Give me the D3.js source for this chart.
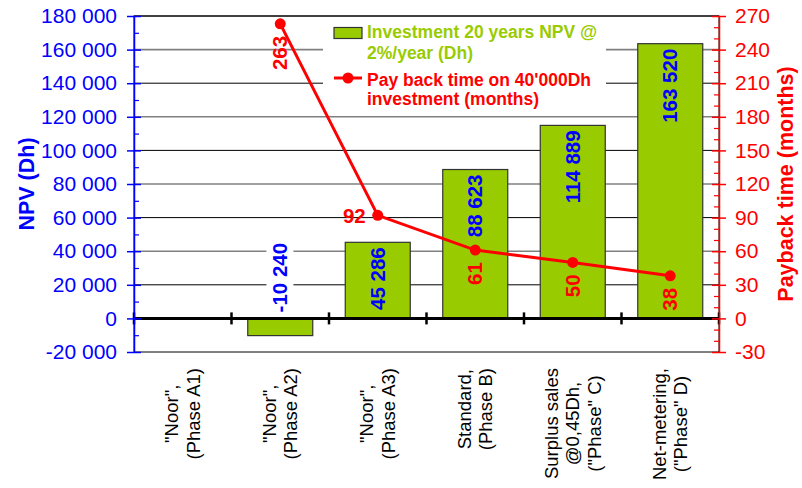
<!DOCTYPE html>
<html>
<head>
<meta charset="utf-8">
<script src="https://cdn.jsdelivr.net/npm/d3@7"></script>
<style>
  body { margin: 0; background: #fff; }
  svg { display: block; font-family: "Liberation Sans", Arial, sans-serif; }
</style>
</head>
<body>
<svg id="chart" width="802" height="488"></svg>
<script>
const categories = [
  ['"Noor",', '(Phase A1)'],
  ['"Noor",', '(Phase A2)'],
  ['"Noor",', '(Phase A3)'],
  ['Standard,', '(Phase B)'],
  ['Surplus sales', '@0,45Dh,', '("Phase" C)'],
  ['Net-metering,', '("Phase" D)']
];
const npv = [null, -10240, 45286, 88623, 114889, 163520];
const payback = [null, 263, 92, 61, 50, 38];
const npvTicks = d3.range(-20000, 180001, 20000);
const paybackTicks = d3.range(-30, 271, 30);
const legendNpv = ['Investment 20 years NPV @', '2%/year (Dh)'];
const legendPayback = ["Pay back time on 40'000Dh", 'investment (months)'];

const svg = d3.select('#chart');
const plotL = 134, plotR = 719, plotT = 16, plotB = 352;
const blue = '#0000ff', red = '#ff0000', green = '#99cc00';

const x = d3.scaleBand()
    .domain(d3.range(categories.length))
    .range([plotL, plotR])
    .paddingInner(1 / 3)
    .paddingOuter(1 / 6);
const y = d3.scaleLinear().domain([-20000, 180000]).range([plotB, plotT]);
const y2 = d3.scaleLinear().domain([-30, 270]).range([plotB, plotT]);
const cx = i => x(i) + x.bandwidth() / 2;
// space as thousands separator, plain hyphen for minus
const fmt = d3.formatLocale({decimal: ',', thousands: ' ', grouping: [3], currency: ['', ''], minus: '-'}).format(',');

// gridlines, alternating dark / grey like the original
svg.append('g').selectAll('line')
  .data(npvTicks.filter(v => v > -20000 && v !== 0))
  .join('line')
    .attr('x1', plotL).attr('x2', plotR)
    .attr('y1', d => y(d)).attr('y2', d => y(d))
    .attr('stroke', d => (d / 20000) % 2 === 0 ? '#808080' : '#000')
    .attr('stroke-width', d => (d / 20000) % 2 === 0 ? 1.6 : 1);

svg.append('rect')
    .attr('x', plotL).attr('y', plotT)
    .attr('width', plotR - plotL).attr('height', plotB - plotT)
    .attr('fill', 'none').attr('stroke', '#000');

// bars
svg.append('g').selectAll('rect')
  .data(npv.map((v, i) => ({v, i})).filter(d => d.v != null))
  .join('rect')
    .attr('x', d => x(d.i))
    .attr('width', x.bandwidth())
    .attr('y', d => Math.min(y(d.v), y(0)))
    .attr('height', d => Math.abs(y(d.v) - y(0)))
    .attr('fill', green)
    .attr('stroke', '#333')
    .attr('stroke-width', 1.2);

// zero line with category separators
svg.append('line')
    .attr('x1', plotL).attr('x2', plotR)
    .attr('y1', y(0)).attr('y2', y(0))
    .attr('stroke', '#000').attr('stroke-width', 3);
svg.append('g').selectAll('line')
  .data(d3.range(categories.length + 1).map(k => plotL + k * x.step()))
  .join('line')
    .attr('x1', d => d).attr('x2', d => d)
    .attr('y1', y(0) - 6).attr('y2', y(0) + 6)
    .attr('stroke', '#000').attr('stroke-width', 2.5);

// left axis
const gL = svg.append('g')
    .attr('transform', `translate(${plotL},0)`)
    .call(d3.axisLeft(y).tickValues(npvTicks).tickFormat(fmt)
      .tickSize(7).tickPadding(10).tickSizeOuter(0))
    .attr('font-size', 21).attr('font-family', null);
gL.select('.domain').attr('stroke', blue).attr('stroke-width', 1.5);
gL.selectAll('.tick line').attr('x1', 7).attr('stroke', blue).attr('stroke-width', 1.5);
gL.selectAll('.tick text').attr('fill', blue);

svg.append('g')
    .attr('transform', `translate(${plotL},0)`)
    .call(d3.axisLeft(y).tickValues(d3.range(-10000, 180000, 20000))
      .tickSize(-5).tickFormat(''))
    .call(g => g.select('.domain').remove())
    .selectAll('line').attr('stroke', blue).attr('stroke-width', 1.2);

// right axis
const gR = svg.append('g')
    .attr('transform', `translate(${plotR},0)`)
    .call(d3.axisRight(y2).tickValues(paybackTicks).tickFormat(fmt)
      .tickSize(7).tickPadding(9).tickSizeOuter(0))
    .attr('font-size', 21).attr('font-family', null);
gR.select('.domain').attr('stroke', red).attr('stroke-width', 1.5);
gR.selectAll('.tick line').attr('x1', -7).attr('stroke', red).attr('stroke-width', 1.5);
gR.selectAll('.tick text').attr('fill', red);

svg.append('g')
    .attr('transform', `translate(${plotR},0)`)
    .call(d3.axisRight(y2).tickValues(d3.range(-30, 271, 10).filter(v => v % 30 !== 0))
      .tickSize(-5).tickFormat(''))
    .call(g => g.select('.domain').remove())
    .selectAll('line').attr('stroke', red).attr('stroke-width', 1.2);

// axis titles
svg.append('text')
    .attr('transform', `translate(26,${(plotT + plotB) / 2}) rotate(-90)`)
    .attr('text-anchor', 'middle').attr('dy', '0.35em')
    .attr('font-size', 21.5).attr('font-weight', 'bold').attr('fill', blue)
    .text('NPV (Dh)');
svg.append('text')
    .attr('transform', `translate(785,${(plotT + plotB) / 2}) rotate(-90)`)
    .attr('text-anchor', 'middle').attr('dy', '0.35em')
    .attr('font-size', 21.5).attr('font-weight', 'bold').attr('fill', red)
    .text('Payback time (months)');

// legend
const lg = svg.append('g');
lg.append('rect').attr('x', 323).attr('y', 17).attr('width', 283).attr('height', 97).attr('fill', '#fff');
lg.append('rect').attr('x', 334).attr('y', 27.5).attr('width', 28).attr('height', 11)
    .attr('fill', green).attr('stroke', '#333').attr('stroke-width', 1.2);
lg.append('line').attr('x1', 334).attr('x2', 362).attr('y1', 78).attr('y2', 78)
    .attr('stroke', red).attr('stroke-width', 3);
lg.append('circle').attr('cx', 348).attr('cy', 78).attr('r', 5.5).attr('fill', red);
lg.append('g').attr('fill', green)
  .selectAll('text').data(legendNpv).join('text')
    .attr('x', 367).attr('y', (d, j) => 38 + j * 20.5)
    .attr('font-size', 17.5).attr('font-weight', 'bold')
    .text(d => d);
lg.append('g').attr('fill', red)
  .selectAll('text').data(legendPayback).join('text')
    .attr('x', 367).attr('y', (d, j) => 85.5 + j * 19)
    .attr('font-size', 17.5).attr('font-weight', 'bold')
    .text(d => d);

// payback line
const pts = payback.map((v, i) => ({v, i})).filter(d => d.v != null);
svg.append('path')
    .attr('d', d3.line().x(d => cx(d.i)).y(d => y2(d.v))(pts))
    .attr('fill', 'none').attr('stroke', red).attr('stroke-width', 3);
svg.append('g').selectAll('circle').data(pts).join('circle')
    .attr('cx', d => cx(d.i)).attr('cy', d => y2(d.v)).attr('r', 5.5)
    .attr('fill', red);

// bar value labels
const bl = svg.append('g').attr('font-size', 20.5).attr('font-weight', 'bold');
npv.forEach((v, i) => {
  if (v == null) return;
  const g = bl.append('g')
      .attr('transform', `translate(${cx(i)},${v < 0 ? y(0) - 6 : y(v) + 5}) rotate(-90)`);
  const t = g.append('text')
      .attr('text-anchor', v < 0 ? 'start' : 'end')
      .attr('dy', '0.35em').attr('fill', blue)
      .text(fmt(v));
  if (v < 0) {
    const b = t.node().getBBox();
    g.insert('rect', 'text')
        .attr('x', b.x - 3).attr('y', b.y - 2)
        .attr('width', b.width + 6).attr('height', b.height + 4)
        .attr('fill', '#fff');
  }
});

// payback labels; the A3 one sits left of its point so it clears the bar text
const pl = svg.append('g').attr('font-size', 20.5).attr('font-weight', 'bold').attr('fill', red);
pts.forEach(d => {
  const px = cx(d.i), py = y2(d.v);
  if (d.i === 2) {
    pl.append('text').attr('x', px - 12).attr('y', py).attr('dy', '0.35em')
        .attr('text-anchor', 'end').text(d.v);
  } else {
    pl.append('text').attr('transform', `translate(${px},${py + 12}) rotate(-90)`)
        .attr('dy', '0.35em').attr('text-anchor', 'end').text(d.v);
  }
});

// category labels, rotated, block anchored near the axis
const xl = svg.append('g').attr('font-size', 18.5).attr('fill', '#000');
categories.forEach((lines, i) => {
  const texts = xl.append('g').selectAll('text').data(lines).join('text')
      .attr('text-anchor', 'middle').attr('dy', '0.35em')
      .text(d => d);
  const len = d3.max(texts.nodes(), n => n.getComputedTextLength());
  texts.attr('transform', (d, j) =>
    `translate(${cx(i) + (j - (lines.length - 1) / 2) * 21.5},${368 + len / 2}) rotate(-90)`);
});
</script>
</body>
</html>
